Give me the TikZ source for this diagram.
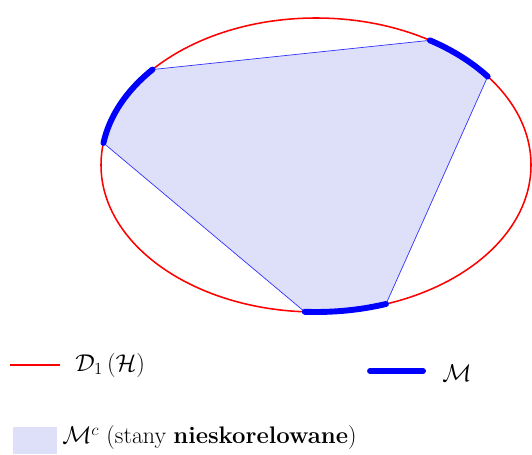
\documentclass[tikz,border=0pt]{standalone}
\usetikzlibrary{calc}
\definecolor{mixcol}{RGB}{222,223,248}
\begin{document}
\begin{tikzpicture}[
        x=0.025cm, y=0.025cm,
        rim/.style={red, line width=1.1pt},
        pure/.style={blue, line width=4.2pt, line cap=round},
        chord/.style={blue!80, line width=0.5pt},
        mixfill/.style={fill=mixcol},
        lbl/.style={font=\fontsize{17}{20}\selectfont, anchor=west, inner sep=0pt}
    ]
        \useasboundingbox (0,0) rectangle (532,454);

        % Ellipse of states and points on it
        \coordinate (c) at (316,289);
        \coordinate (a1) at ($(c)+(171.4:215 and 147)$);
        \coordinate (a2) at ($(c)+(139.5:215 and 147)$);
        \coordinate (b1) at ($(c)+(58:215 and 147)$);
        \coordinate (b2) at ($(c)+(37:215 and 147)$);
        \coordinate (d1) at ($(c)+(289:215 and 147)$);
        \coordinate (d2) at ($(c)+(267:215 and 147)$);

        % Convex hull
        \fill[mixfill] (a1) arc[start angle=171.4, end angle=139.5, x radius=215, y radius=147]
            -- (b1) arc[start angle=58, end angle=37, x radius=215, y radius=147]
            -- (d1) arc[start angle=289, end angle=267, x radius=215, y radius=147] -- cycle;
        \draw[rim] (c) ellipse[x radius=215, y radius=147];
        \draw[chord] (a2) -- (b1);
        \draw[chord] (b2) -- (d1);
        \draw[chord] (d2) -- (a1);

        % Pure states
        \draw[pure] (a1) arc[start angle=171.4, end angle=139.5, x radius=215, y radius=147];
        \draw[pure] (b1) arc[start angle=58, end angle=37, x radius=215, y radius=147];
        \draw[pure] (d1) arc[start angle=289, end angle=267, x radius=215, y radius=147];

        % Legend
        \coordinate (redA) at (10,89);
        \coordinate (redB) at (60,89);
        \draw[rim] (redA) -- (redB);
        \node[lbl] (dlab) at (75,89) {$\mathcal{D}_1\left(\mathcal{H}\right)$};
        \coordinate (blueA) at (370,83);
        \coordinate (blueB) at (423,83);
        \draw[pure] (blueA) -- (blueB);
        \node[lbl] (mlab) at (442,81) {$\mathcal{M}$};
        \node[mixfill, minimum width=1.1cm, minimum height=0.675cm, inner sep=0pt, anchor=south west] (box) at (13,0) {};
        \node[lbl] (mclab) at (62,16) {$\mathcal{M}^c$ (stany \textbf{nieskorelowane})};

    \end{tikzpicture}
\end{document}
